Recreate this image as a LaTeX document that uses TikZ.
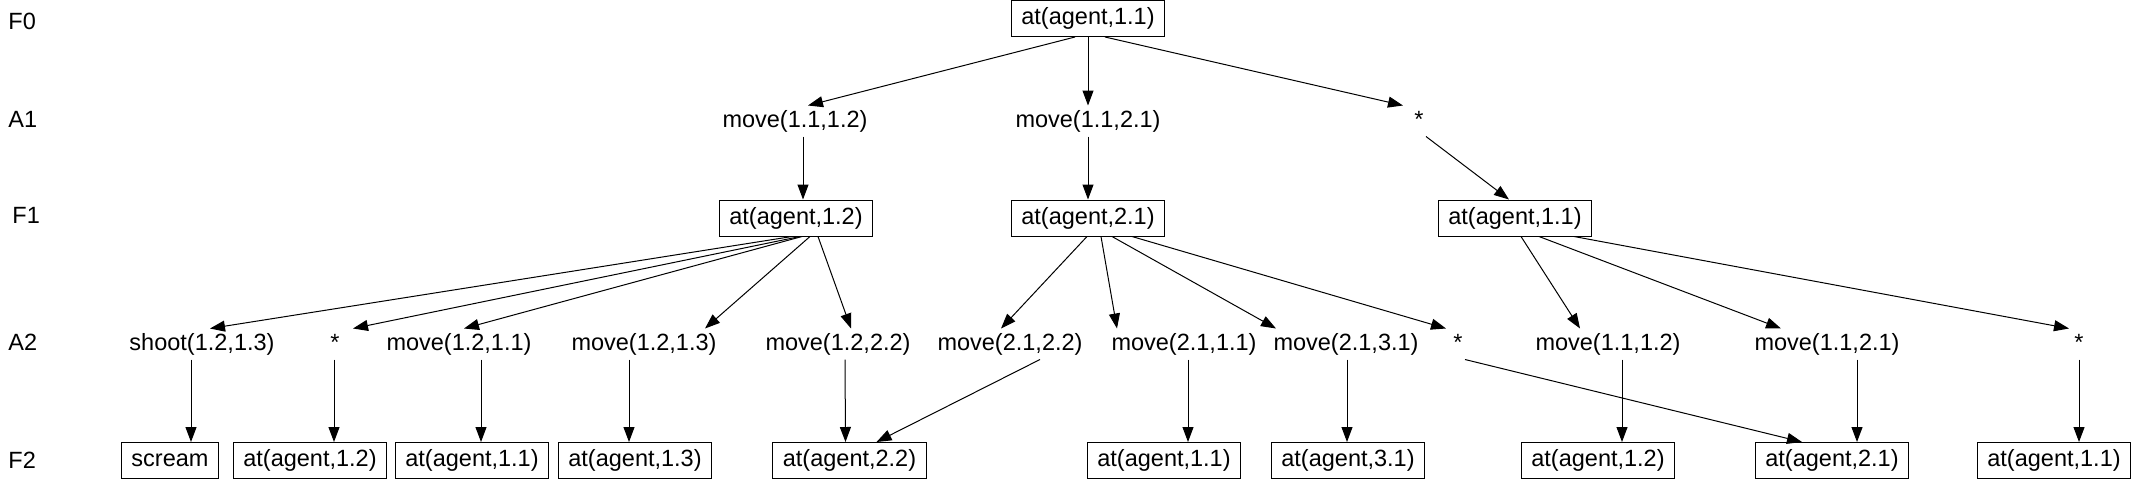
\documentclass[tikz,border=0pt]{standalone}
\usepackage{fontspec}
\setmainfont{Liberation Sans}
\usetikzlibrary{arrows.meta}

\begin{document}
\begin{tikzpicture}[x=1pt, y=-1pt, line width=1pt, >={Triangle[length=15pt,width=11pt]},
    every node/.style={font=\fontsize{23.5}{28}\selectfont, text height=17pt, text depth=5pt},
    fact/.style={draw, inner xsep=10pt, inner ysep=0pt, minimum height=36pt},
    act/.style={inner sep=0pt, minimum height=30pt},
    lvl/.style={anchor=west, inner sep=0pt}]
        \useasboundingbox (0,0) rectangle (2133,480);
        % level labels
        \node[lvl] (l0) at (8,23) {F0};
        \node[lvl] (l1) at (8,121) {A1};
        \node[lvl] (l2) at (12,217) {F1};
        \node[lvl] (l3) at (8,344) {A2};
        \node[lvl] (l4) at (8,462) {F2};
        % F0, A1, F1
        \node[fact] (f0) at (1088,18.5) {at(agent,1.1)};
        \node[act] (a1a) at (795,121) {move(1.1,1.2)};
        \node[act] (a1b) at (1088,121) {move(1.1,2.1)};
        \node[act] (a1c) at (1419,121) {*};
        \node[fact] (f1a) at (796,218) {at(agent,1.2)};
        \node[fact] (f1b) at (1088,218) {at(agent,2.1)};
        \node[fact] (f1c) at (1515,218) {at(agent,1.1)};
        % A2
        \node[act] (a2a) at (202,344) {shoot(1.2,1.3)};
        \node[act] (a2b) at (335,344) {*};
        \node[act] (a2c) at (459,344) {move(1.2,1.1)};
        \node[act] (a2d) at (644,344) {move(1.2,1.3)};
        \node[act] (a2e) at (838,344) {move(1.2,2.2)};
        \node[act] (a2f) at (1010,344) {move(2.1,2.2)};
        \node[act] (a2g) at (1184,344) {move(2.1,1.1)};
        \node[act] (a2h) at (1346,344) {move(2.1,3.1)};
        \node[act] (a2i) at (1458,344) {*};
        \node[act] (a2j) at (1608,344) {move(1.1,1.2)};
        \node[act] (a2k) at (1827,344) {move(1.1,2.1)};
        \node[act] (a2l) at (2079,344) {*};
        % F2
        \node[fact] (f2a) at (170,460.5) {scream};
        \node[fact] (f2b) at (310,460.5) {at(agent,1.2)};
        \node[fact] (f2c) at (472,460.5) {at(agent,1.1)};
        \node[fact] (f2d) at (635,460.5) {at(agent,1.3)};
        \node[fact] (f2e) at (849.5,460.5) {at(agent,2.2)};
        \node[fact] (f2f) at (1164,460.5) {at(agent,1.1)};
        \node[fact] (f2g) at (1348,460.5) {at(agent,3.1)};
        \node[fact] (f2h) at (1598,460.5) {at(agent,1.2)};
        \node[fact] (f2i) at (1832,460.5) {at(agent,2.1)};
        \node[fact] (f2j) at (2054,460.5) {at(agent,1.1)};
        % F0 -> A1 -> F1
        \draw[->] ([xshift=-13]f0.south) -- ([xshift=13]a1a.north);
        \draw[->] (f0) -- (a1b);
        \draw[->] ([xshift=17]f0.south) -- ([xshift=-16]a1c.north);
        \draw[->] ([xshift=8]a1a.south) -- ([xshift=7]f1a.north);
        \draw[->] (a1b) -- (f1b);
        \draw[->] ([xshift=7]a1c.south) -- ([xshift=-6]f1c.north);
        % F1 -> A2
        \draw[->] ([xshift=-4]f1a.south) -- ([xshift=8]a2a.north);
        \draw[->] ([xshift=4]f1a.south) -- ([xshift=18]a2b.north);
        \draw[->] ([xshift=6]f1a.south) -- ([xshift=5]a2c.north);
        \draw[->] ([xshift=14]f1a.south) -- ([xshift=61]a2d.north);
        \draw[->] ([xshift=22]f1a.south) -- ([xshift=13]a2e.north);
        \draw[->] ([xshift=-1]f1b.south) -- ([xshift=-9]a2f.north);
        \draw[->] ([xshift=13]f1b.south) -- ([xshift=-67]a2g.north);
        \draw[->] ([xshift=24]f1b.south) -- ([xshift=-70]a2h.north);
        \draw[->] ([xshift=44]f1b.south) -- ([xshift=-12]a2i.north);
        \draw[->] ([xshift=6]f1c.south) -- ([xshift=-28]a2j.north);
        \draw[->] ([xshift=24]f1c.south) -- ([xshift=-46]a2k.north);
        \draw[->] ([xshift=59]f1c.south) -- ([xshift=-10]a2l.north);
        % A2 -> F2
        \draw[->] ([xshift=-11]a2a.south) -- ([xshift=21]f2a.north);
        \draw[->] ([xshift=-1]a2b.south) -- ([xshift=24]f2b.north);
        \draw[->] ([xshift=22]a2c.south) -- ([xshift=9]f2c.north);
        \draw[->] ([xshift=-15]a2d.south) -- ([xshift=-6]f2d.north);
        \draw[->] ([xshift=7]a2e.south) -- ([xshift=-4]f2e.north);
        \draw[->] ([xshift=30]a2f.south) -- ([xshift=27]f2e.north);
        \draw[->] ([xshift=4]a2g.south) -- ([xshift=24]f2f.north);
        \draw[->] ([xshift=1]a2h.south) -- ([xshift=-1]f2g.north);
        \draw[->] ([xshift=7]a2i.south) -- ([xshift=-30]f2i.north);
        \draw[->] ([xshift=14]a2j.south) -- ([xshift=24]f2h.north);
        \draw[->] ([xshift=30]a2k.south) -- ([xshift=25]f2i.north);
        \draw[->] (a2l.south) -- ([xshift=25]f2j.north);
    \end{tikzpicture}
\end{document}
